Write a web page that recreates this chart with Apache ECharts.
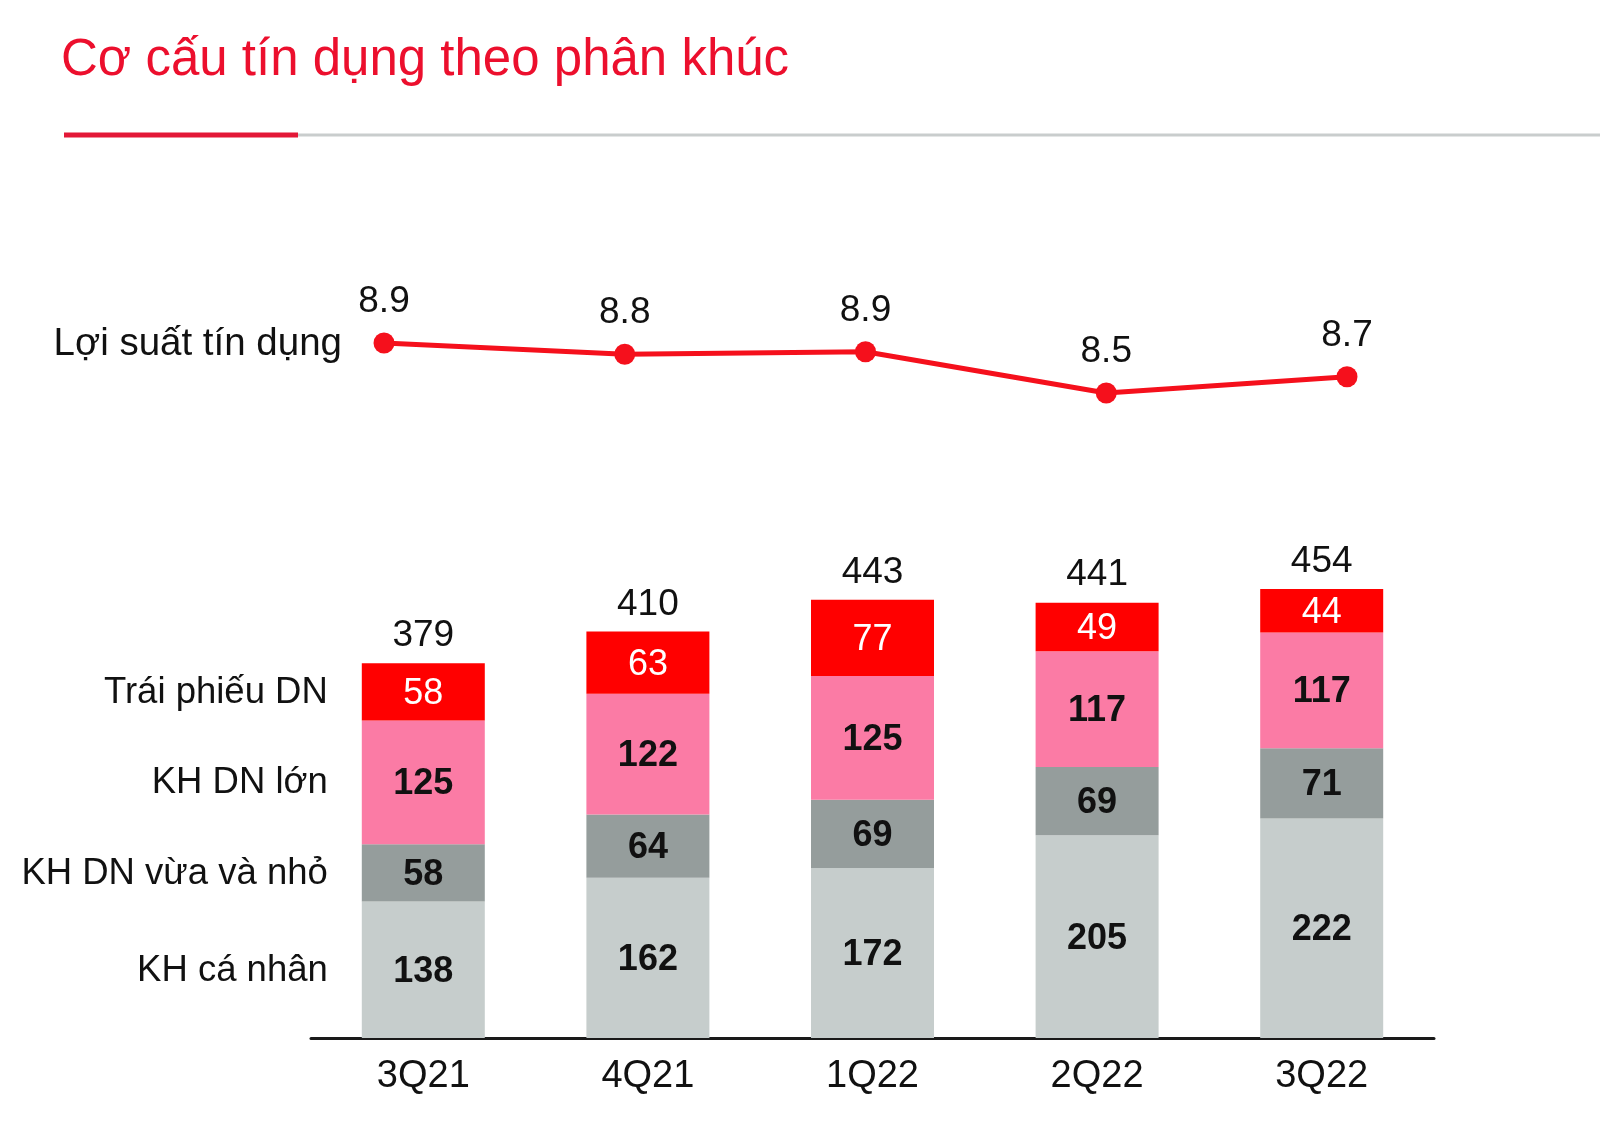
<!DOCTYPE html>
<html>
<head>
<meta charset="utf-8">
<script src="https://cdn.jsdelivr.net/npm/echarts@6/dist/echarts.min.js"></script>
<style>
html,body{margin:0;padding:0;background:#fff;}
#chart{width:1600px;height:1122px;}
</style>
</head>
<body>
<div id="chart"></div>
<script>
const titleText = 'Cơ cấu tín dụng theo phân khúc';
const categories = ['3Q21', '4Q21', '1Q22', '2Q22', '3Q22'];
const caNhan = [138, 162, 172, 205, 222];
const dnVuaNho = [58, 64, 69, 69, 71];
const dnLon = [125, 122, 125, 117, 117];
const traiPhieu = [58, 63, 77, 49, 44];
const totals = [379, 410, 443, 441, 454];
const loiSuat = [8.93, 8.84, 8.86, 8.53, 8.66];
const segmentNames = ['KH cá nhân', 'KH DN vừa và nhỏ', 'KH DN lớn', 'Trái phiếu DN'];
const lineName = 'Lợi suất tín dụng';

const FONT = "'Liberation Sans', Arial, sans-serif";
const segColors = ['#c6cdcc', '#959d9c', '#fb7ba5', '#ff0000'];
const segData = [caNhan, dnVuaNho, dnLon, traiPhieu];

const chart = echarts.init(document.getElementById('chart'), null, {renderer: 'canvas'});

const barSeries = segData.map((d, i) => ({
  name: segmentNames[i],
  type: 'bar',
  stack: 'credit',
  xAxisIndex: 0,
  yAxisIndex: 0,
  barWidth: 123,
  data: d,
  itemStyle: {color: segColors[i]},
  label: {
    show: true,
    position: 'inside',
    offset: [0, 2],
    fontFamily: FONT,
    fontSize: 36,
    fontWeight: i === 3 ? 'normal' : 'bold',
    color: i === 3 ? '#ffffff' : '#111111'
  },
  emphasis: {disabled: true},
  animation: false
}));

const option = {
  animation: false,
  backgroundColor: '#ffffff',
  title: {
    text: titleText,
    left: 56,
    top: 30,
    textStyle: {fontFamily: FONT, fontSize: 51, fontWeight: 'normal', color: '#ec0f2d', lineHeight: 51}
  },
  grid: [
    {left: 311, width: 1123, top: 543.5, height: 494.5},
    {left: 384, width: 963, top: 309.25, height: 150}
  ],
  xAxis: [
    {
      type: 'category', gridIndex: 0, data: categories,
      axisLine: {show: true, lineStyle: {color: '#1a1a1a', width: 3}},
      axisTick: {show: false},
      axisLabel: {fontFamily: FONT, fontSize: 38, color: '#111111', margin: 20, lineHeight: 38}
    },
    {
      type: 'category', gridIndex: 1, data: categories, boundaryGap: false, show: false
    }
  ],
  yAxis: [
    {type: 'value', gridIndex: 0, min: 0, max: 500, show: false, splitLine: {show: false}},
    {type: 'value', gridIndex: 1, min: 8.0, max: 9.2, show: false, splitLine: {show: false}}
  ],
  series: barSeries.concat([
    {
      name: 'Tổng',
      type: 'scatter',
      xAxisIndex: 0, yAxisIndex: 0,
      data: totals,
      symbolSize: 0,
      itemStyle: {color: '#111111', opacity: 1},
      label: {
        show: true, position: 'top', distance: 9,
        fontFamily: FONT, fontSize: 37, lineHeight: 37, color: '#111111'
      },
      emphasis: {disabled: true},
      silent: true
    },
    {
      name: lineName,
      type: 'line',
      xAxisIndex: 1, yAxisIndex: 1,
      data: loiSuat,
      symbol: 'circle',
      symbolSize: 21,
      lineStyle: {color: '#f5101c', width: 5},
      itemStyle: {color: '#f5101c'},
      label: {
        show: true, position: 'top', distance: 12,
        fontFamily: FONT, fontSize: 37, lineHeight: 37, color: '#111111',
        formatter: p => p.value.toFixed(1)
      },
      emphasis: {disabled: true},
      silent: true
    }
  ])
};

chart.setOption(option);

// Side labels positioned via the library's scales
const graphics = [
  {type: 'line', shape: {x1: 298, y1: 135, x2: 1600, y2: 135}, style: {stroke: '#c9cdcd', lineWidth: 3}},
  {type: 'line', shape: {x1: 64, y1: 135, x2: 298, y2: 135}, style: {stroke: '#e31837', lineWidth: 5}}
];
let base = 0;
segData.forEach((d, i) => {
  const mid = base + d[0] / 2;
  base += d[0];
  const pt = chart.convertToPixel({xAxisIndex: 0, yAxisIndex: 0}, [0, mid]);
  graphics.push({
    type: 'text',
    x: pt[0] - 95.5, y: pt[1] + 1,
    style: {text: segmentNames[i], font: '36.5px ' + FONT, fill: '#111111', textAlign: 'right', textVerticalAlign: 'middle'}
  });
});
const lp = chart.convertToPixel({xAxisIndex: 1, yAxisIndex: 1}, [0, loiSuat[0]]);
graphics.push({
  type: 'text',
  x: lp[0] - 42, y: lp[1] + 1,
  style: {text: lineName, font: '38.5px ' + FONT, fill: '#111111', textAlign: 'right', textVerticalAlign: 'middle'}
});
chart.setOption({graphic: graphics});
</script>
</body>
</html>
